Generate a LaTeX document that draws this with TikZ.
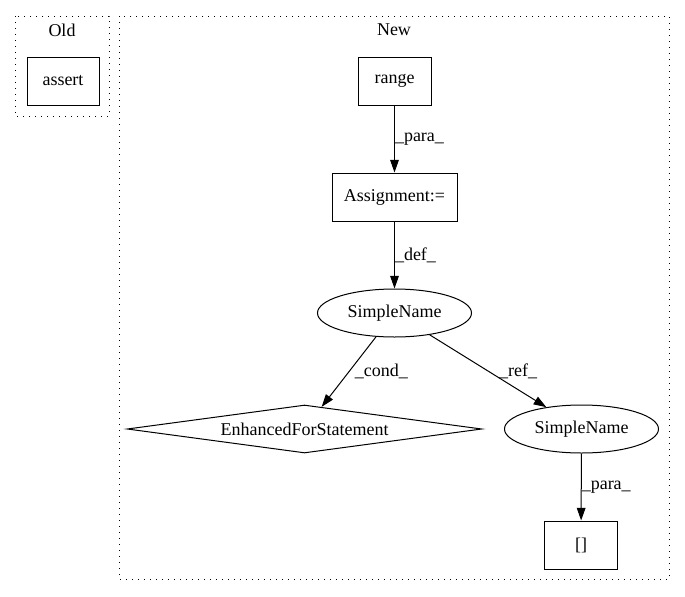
\documentclass[tikz,border=0pt]{standalone}
\usepackage{fontspec}
\setmainfont{Liberation Serif}
\usetikzlibrary{shapes.geometric,arrows.meta}
\begin{document}
\begin{tikzpicture}[x=0.75pt,y=-0.75pt,
  every node/.style={font=\fontsize{13.5}{16}\selectfont},
  box/.style={draw, line width=0.75pt, rectangle, inner sep=0pt, minimum height=36pt},
  ell/.style={draw, line width=0.75pt, ellipse, inner sep=0pt, minimum width=115.5pt, minimum height=36pt},
  dia/.style={draw, line width=0.75pt, diamond, aspect=7.4, inner sep=0pt, minimum width=266pt, minimum height=36pt},
  cluster/.style={draw, line width=0.75pt, dash pattern=on 0.9pt off 3.6pt},
  conn/.style={draw, line width=0.75pt, -{Triangle[length=9.5pt,width=6.5pt]}},
  lbl/.style={anchor=west, inner sep=0pt},
]
\path[use as bounding box] (0,0) rectangle (685,596);
% clusters
\draw[cluster] (15,16) rectangle (109,116);
\draw[cluster] (119,16) rectangle (669,579);
\node (oldlbl) at (62,30) {Old};
\node (newlbl) at (394,30) {New};
% nodes
\node[box, minimum width=54pt] (assert) at (63,81) {assert};
\node[box, minimum width=54.75pt] (range) at (394.5,81) {range};
\node[box, minimum width=93.75pt] (assign) at (394.5,197) {Assignment:=};
\node[ell] (sn1) at (394.5,313) {SimpleName};
\node[dia] (efs) at (304.5,429) {EnhancedForStatement};
\node[ell] (sn2) at (581.5,429) {SimpleName};
\node[box, minimum width=54.4pt] (br) at (581,545) {[]};
% edges
\draw[conn] (range) -- (assign) node[lbl, pos=0.5] {\_para\_};
\draw[conn] (assign) -- (sn1) node[lbl, pos=0.5] {\_def\_};
\draw[conn] (sn1) -- (efs) node[lbl, pos=0.49, xshift=3.75pt] {\_cond\_};
\draw[conn] (sn1) -- (sn2) node[lbl, pos=0.5, xshift=8pt] {\_ref\_};
\draw[conn] (sn2) -- (br) node[lbl, pos=0.5] {\_para\_};
\end{tikzpicture}
\end{document}
